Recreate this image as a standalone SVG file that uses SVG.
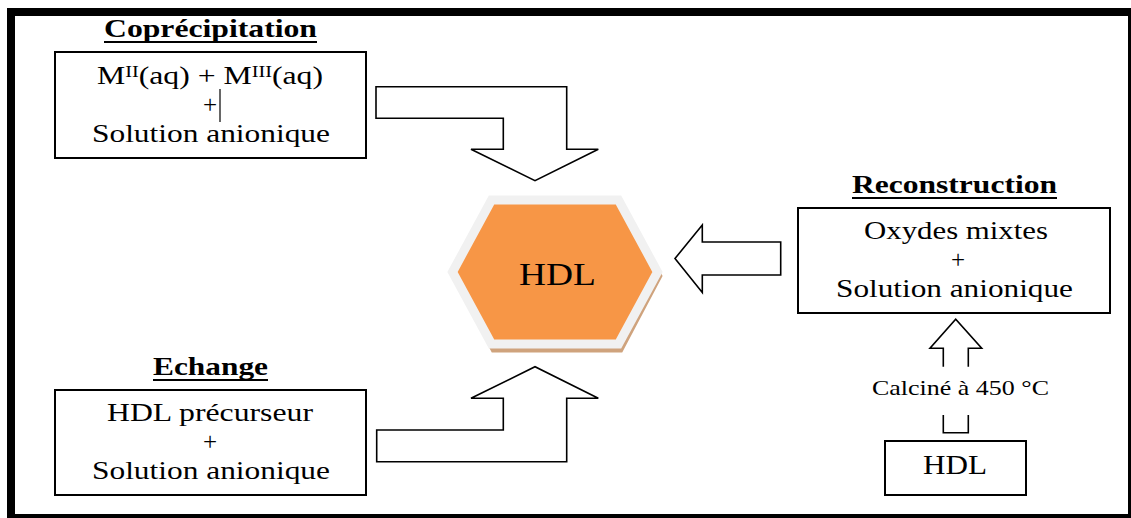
<svg xmlns="http://www.w3.org/2000/svg" width="1131" height="518" viewBox="0 0 1131 518">
<style>
.t{font-family:"Liberation Serif","Times New Roman",serif;fill:#000;}
.ti{font-family:"Liberation Serif","Times New Roman",serif;font-weight:bold;font-size:26px;fill:#000;}
.box{fill:#fff;stroke:#000;stroke-width:2;}
.arr{fill:#fff;stroke:#000;stroke-width:1.6;stroke-linejoin:miter;}
.ul{stroke:#000;stroke-width:2;}
</style>
<rect x="0" y="0" width="1131" height="518" fill="#fff"/>
<rect x="11" y="12" width="1121" height="506" fill="none" stroke="#000" stroke-width="8"/>

<g id="coprecipitation">
  <text class="ti" x="104" y="37" textLength="213" lengthAdjust="spacingAndGlyphs">Coprécipitation</text>
  <line class="ul" x1="104" y1="42" x2="317" y2="42"/>
  <rect class="box" x="55" y="52" width="311" height="106"/>
  <text class="t" x="97" y="84" font-size="25" textLength="226" lengthAdjust="spacingAndGlyphs">M<tspan font-size="16" dy="-7">II</tspan><tspan dy="7">(aq) + M</tspan><tspan font-size="16" dy="-7">III</tspan><tspan dy="7">(aq)</tspan></text>
  <text class="t" x="210" y="113" font-size="25" text-anchor="middle">+</text>
  <line x1="220" y1="89" x2="220" y2="122" stroke="#000" stroke-width="1.2"/>
  <text class="t" x="92" y="142" font-size="25" textLength="238" lengthAdjust="spacingAndGlyphs">Solution anionique</text>
</g>

<g id="hdl-center">
  <polygon points="456.5,276 494.5,204 619.5,204 657.5,276 619.5,348 494.5,348" fill="#CFA37D" stroke="#CFA37D" stroke-width="9" stroke-linejoin="miter"/>
  <polygon points="452.5,272 491.5,200 618.5,200 657.5,272 618.5,344 491.5,344" fill="#F79646" stroke="#F1F1F1" stroke-width="9" stroke-linejoin="miter"/>
  <text class="t" x="519" y="285" font-size="32" textLength="77" lengthAdjust="spacingAndGlyphs">HDL</text>
</g>

<g id="reconstruction">
  <text class="ti" x="852" y="193" textLength="205" lengthAdjust="spacingAndGlyphs">Reconstruction</text>
  <line class="ul" x1="852" y1="198" x2="1057" y2="198"/>
  <rect class="box" x="798" y="208" width="312" height="105"/>
  <text class="t" x="864" y="239" font-size="25" textLength="184" lengthAdjust="spacingAndGlyphs">Oxydes mixtes</text>
  <text class="t" x="958" y="268" font-size="25" text-anchor="middle">+</text>
  <text class="t" x="836" y="297" font-size="25" textLength="237" lengthAdjust="spacingAndGlyphs">Solution anionique</text>
</g>

<g id="calcination">
  <text class="t" x="872" y="395" font-size="21" textLength="177" lengthAdjust="spacingAndGlyphs">Calciné à 450 °C</text>
</g>

<g id="hdl-source">
  <rect class="box" x="885" y="441" width="141" height="54"/>
  <text class="t" x="923" y="474" font-size="27" textLength="64" lengthAdjust="spacingAndGlyphs">HDL</text>
</g>

<g id="echange">
  <text class="ti" x="153" y="375" textLength="115" lengthAdjust="spacingAndGlyphs">Echange</text>
  <line class="ul" x1="153" y1="380" x2="268" y2="380"/>
  <rect class="box" x="55" y="390" width="311" height="105"/>
  <text class="t" x="107" y="421" font-size="25" textLength="206" lengthAdjust="spacingAndGlyphs">HDL précurseur</text>
  <text class="t" x="210" y="450" font-size="25" text-anchor="middle">+</text>
  <text class="t" x="92" y="479" font-size="25" textLength="238" lengthAdjust="spacingAndGlyphs">Solution anionique</text>
</g>

<g id="connectors">
  <path class="arr" d="M376,86.7 H566.7 V149.3 H598.3 L535,180.7 L471,149.3 H503.3 V118.3 H376 Z"/>
  <path class="arr" d="M376.7,430 H503.3 V398.3 H471 L535,366.7 L598.3,398.3 H566.7 V461.7 H376.7 Z"/>
  <path class="arr" d="M780.7,242 H702.3 V225 L675,258.5 L702.3,292.5 V275 H780.7 Z"/>
  <path class="arr" d="M943.3,366.7 V348.3 H930 L955.7,319.3 L981.7,348.3 H968.3 V366.7"/>
  <path class="arr" fill="none" d="M943.3,415 V432.7 H968.3 V415"/>
</g>
</svg>
